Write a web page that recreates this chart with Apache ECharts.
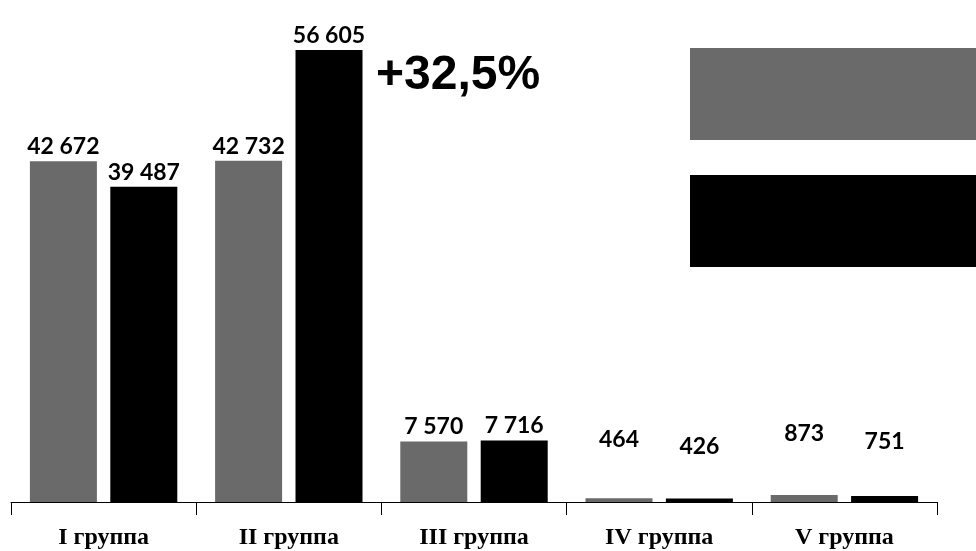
<!DOCTYPE html>
<html>
<head>
<meta charset="utf-8">
<script src="https://cdn.jsdelivr.net/npm/echarts@6/dist/echarts.min.js"></script>
<style>
  html, body { margin: 0; padding: 0; background: #fff; }
  #chart { width: 976px; height: 551px; }
</style>
</head>
<body>
<div id="chart"></div>
<script>
const categories = ["I группа", "II группа", "III группа", "IV группа", "V группа"];
const seriesNames = ["Ряд 1", "Ряд 2"];
const grayValues = [42672, 42732, 7570, 464, 873];
const blackValues = [39487, 56605, 7716, 426, 751];
const growthNote = "+32,5%";

// small bars had their labels lifted by hand in the original
const grayLift = [0, 0, 0, -44, -47];
const blackLift = [0, 0, 0, -38, -40];

const fmt = (v) => String(v).replace(/\B(?=(\d{3})+(?!\d))/g, " ");

const labelStyle = {
  show: true,
  position: "top",
  distance: 3,
  color: "#000",
  fontFamily: "Lato",
  fontWeight: "bold",
  fontSize: 23,
  formatter: (p) => fmt(p.value),
};

const toItems = (vals, lift) =>
  vals.map((v, i) => (lift[i] ? { value: v, label: { offset: [0, lift[i]] } } : v));

const chart = echarts.init(document.getElementById("chart"), null, { renderer: "canvas" });

chart.setOption({
  animation: false,
  grid: { left: 11, right: 39, top: 23, bottom: 49 },
  legend: {
    left: 685,
    top: 43,
    orient: "vertical",
    itemWidth: 291,
    itemHeight: 92,
    itemGap: 35,
    icon: "rect",
    formatter: () => "",
    selectedMode: false,
    data: seriesNames,
  },
  xAxis: {
    type: "category",
    data: categories,
    axisLine: { lineStyle: { color: "#000", width: 1 } },
    axisTick: { show: true, length: 13, lineStyle: { color: "#000" } },
    axisLabel: {
      color: "#000",
      fontFamily: "Liberation Serif",
      fontWeight: "bold",
      fontSize: 24,
      margin: 24,
    },
  },
  yAxis: { type: "value", min: 0, max: 60000, show: false, splitLine: { show: false } },
  series: [
    {
      name: seriesNames[0],
      type: "bar",
      barWidth: 67,
      barGap: "20%",
      itemStyle: { color: "#6a6a6a" },
      label: labelStyle,
      data: toItems(grayValues, grayLift),
    },
    {
      name: seriesNames[1],
      type: "bar",
      barWidth: 67,
      itemStyle: { color: "#000" },
      label: labelStyle,
      data: toItems(blackValues, blackLift),
    },
  ],
  graphic: [
    {
      type: "text",
      x: 376,
      y: 76,
      style: {
        text: growthNote,
        fill: "#000",
        font: "bold 48px 'Liberation Sans'",
        align: "left",
        verticalAlign: "middle",
      },
    },
  ],
});
</script>
</body>
</html>
